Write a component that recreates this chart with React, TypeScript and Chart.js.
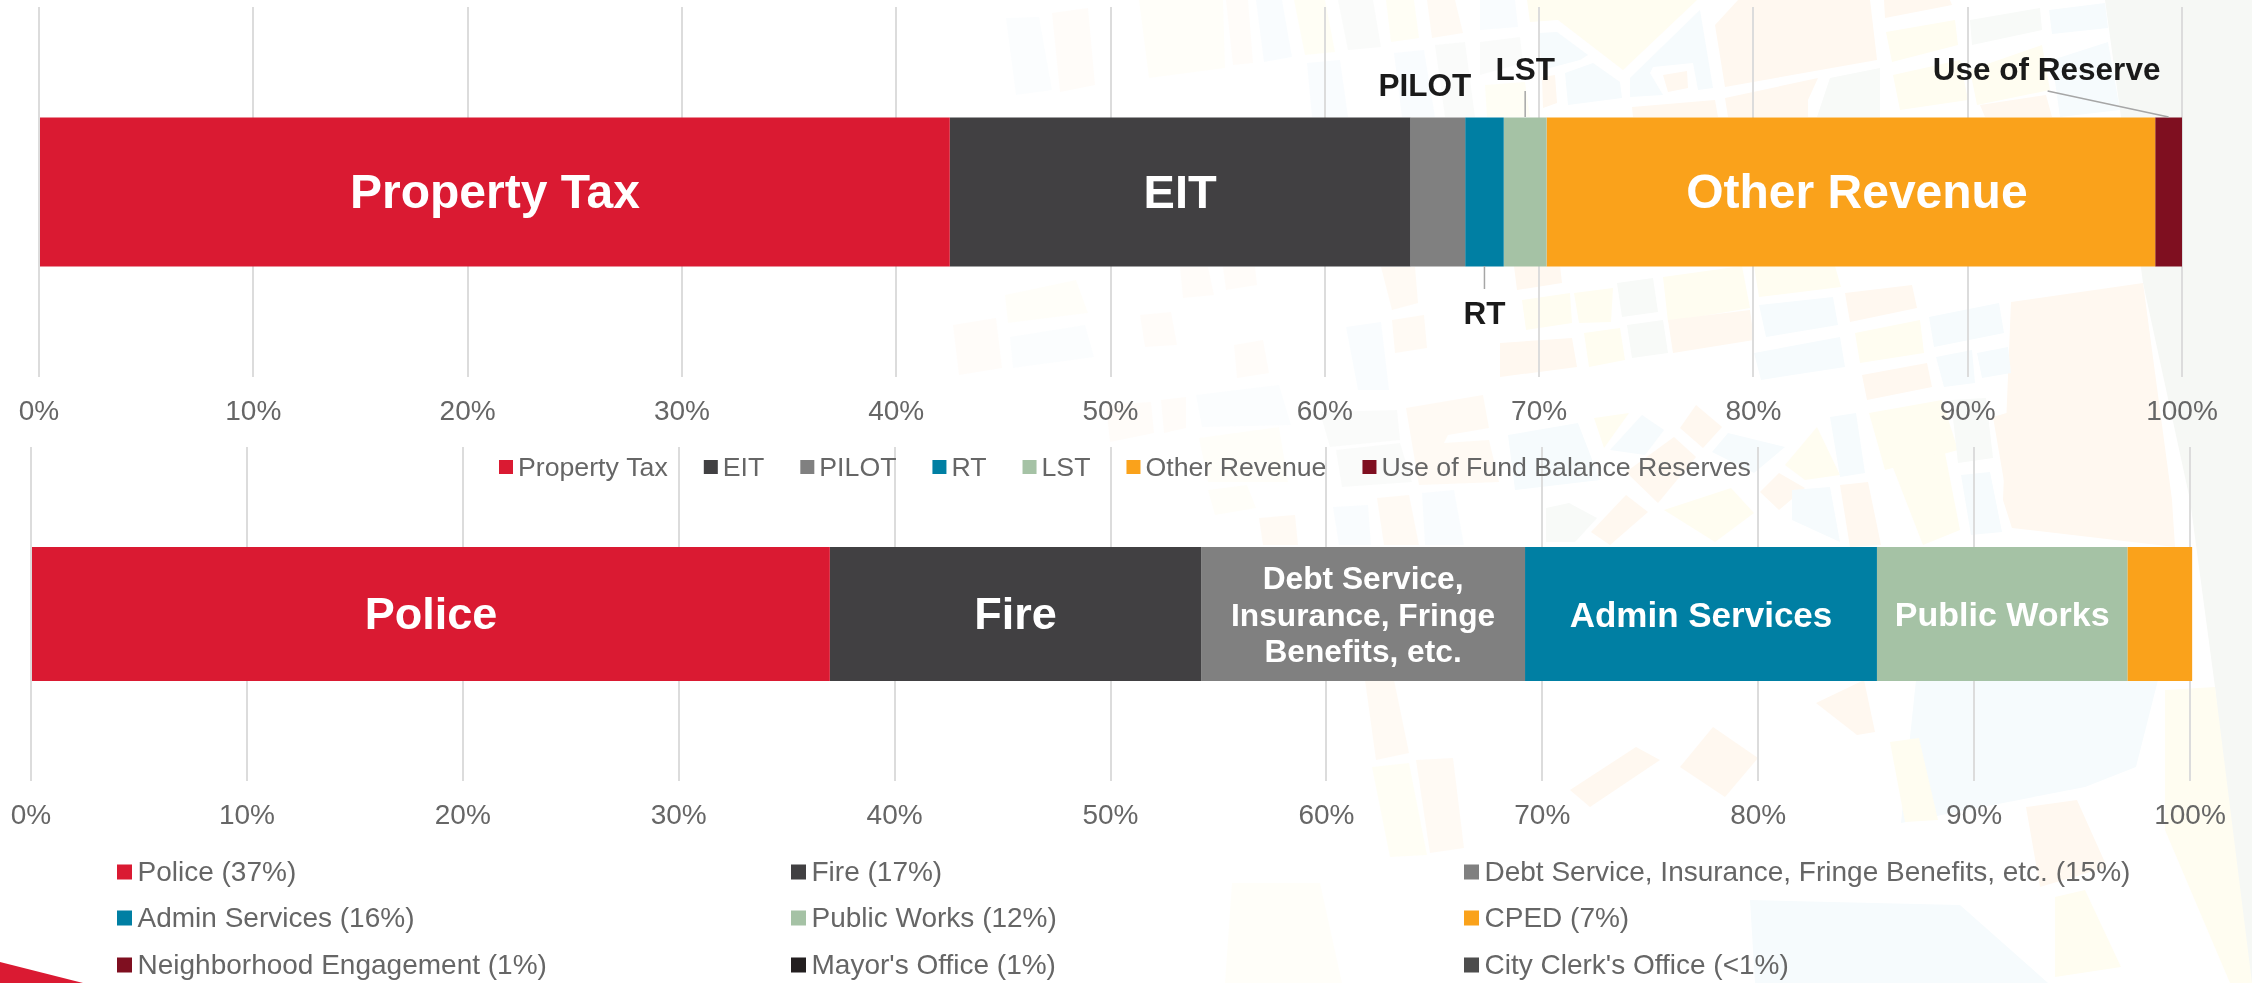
import React, { useEffect, useRef } from "react";
import { Chart, registerables } from "chart.js";

Chart.register(...registerables);

const FONT = "'Liberation Sans', Arial, sans-serif";
const TICK_GREY = "#666666";

// Revenue chart
const revenueNames = ["Property Tax", "EIT", "PILOT", "RT", "LST", "Other Revenue", "Use of Fund Balance Reserves"];
const revenueValues = [42.5, 21.5, 2.55, 1.8, 2.0, 28.4, 1.25];
const revenueColors = ["#DA1A32", "#414042", "#808080", "#007FA3", "#A5C2A5", "#FAA21B", "#7F0F20"];
const revenueInside = ["Property Tax", "EIT", "", "", "", "Other Revenue", ""];

// Spending chart
const spendNames = [
  "Police (37%)", "Fire (17%)", "Debt Service, Insurance, Fringe Benefits, etc. (15%)",
  "Admin Services (16%)", "Public Works (12%)", "CPED (7%)",
  "Neighborhood Engagement (1%)", "Mayor's Office (1%)", "City Clerk's Office (<1%)",
];
const spendValues = [37.0, 17.2, 15.0, 16.3, 11.6, 3.0, 0, 0, 0];
const spendColors = ["#DA1A32", "#414042", "#808080", "#007FA3", "#A5C2A5", "#FAA21B", "#7F0F20", "#231F20", "#4D4D4D"];
const spendInside = ["Police", "Fire", "Debt Service,\nInsurance, Fringe\nBenefits, etc.", "Admin Services", "Public Works", "", "", "", ""];

const axisTicks = [0, 10, 20, 30, 40, 50, 60, 70, 80, 90, 100];

// Decorative street-map backdrop: [fill, points]
const PEACH = "#FFF8F0";
const YELLOW = "#FFFDF1";
const BLUE = "#F6FBFD";
const GREY = "#F8FAF8";
const mapBlocks: [string, string][] = [
  ["#F6F8F5", "2105,0 2252,0 2252,983 2245,983 2215,687 2190,500 2143,283 2120,110"],
  [PEACH, "2011,302 2143,283 2172,500 2175,547 2012,528 2003,500"],
  [PEACH, "1993,417 2100,385 2100,512 2012,528"],
  [BLUE, "1916,680 2158,680 2136,767 2085,787 1901,823"],
  [YELLOW, "2165,690 2215,687 2252,983 2230,983 2165,830"],
  // top strip
  [YELLOW, "1527,0 1697,0 1623,70 1558,20 1530,22"],
  [BLUE, "1630,78 1700,10 1713,88 1698,90 1693,63 1653,67 1650,73 1663,95 1630,97"],
  [PEACH, "1715,25 1738,0 1870,0 1877,60 1725,87"],
  [PEACH, "1663,75 1687,71 1688,88 1668,92"],
  [PEACH, "1632,107 1715,100 1718,117 1633,117"],
  [PEACH, "1725,98 1818,78 1808,100 1808,117 1728,117"],
  [GREY, "1830,78 1880,68 1880,117 1817,117"],
  [BLUE, "1538,33 1557,32 1588,55 1580,60 1542,70"],
  [BLUE, "1565,73 1593,63 1620,82 1622,98 1568,105"],
  [BLUE, "1480,0 1515,0 1518,27 1480,30"],
  [GREY, "1480,42 1520,37 1523,63 1480,75"],
  [YELLOW, "1485,85 1525,82 1530,117 1487,117"],
  [PEACH, "1542,77 1555,75 1557,103 1543,108"],
  [PEACH, "1884,0 1950,0 1952,5 1885,18"],
  [YELLOW, "1886,32 1955,20 1958,45 1892,62"],
  [GREY, "1970,20 2040,8 2042,30 1972,45"],
  [BLUE, "2049,10 2105,3 2108,28 2052,34"],
  [BLUE, "2052,60 2108,42 2120,110 2060,117"],
  [YELLOW, "1970,70 2042,45 2050,90 1977,105"],
  [YELLOW, "1893,75 1960,60 1968,100 1900,110"],
  [PEACH, "1980,105 2046,95 2052,117 1985,117"],
  [PEACH, "1052,13 1088,8 1095,85 1060,92"],
  [BLUE, "1006,18 1039,17 1052,90 1016,95"],
  [YELLOW, "1139,0 1223,0 1225,68 1149,78"],
  [PEACH, "1226,0 1248,0 1253,63 1233,65"],
  [BLUE, "1256,0 1282,0 1292,57 1264,62"],
  [YELLOW, "1294,0 1325,0 1335,52 1305,55"],
  [GREY, "1338,0 1373,0 1381,47 1348,50"],
  [YELLOW, "1386,0 1414,0 1419,38 1391,42"],
  [PEACH, "1427,0 1455,0 1463,33 1432,38"],
  [BLUE, "1307,63 1340,60 1348,117 1312,117"],
  [BLUE, "1394,53 1424,50 1435,117 1402,117"],
  [GREY, "1435,45 1465,42 1475,117 1445,117"],
  // under the first bar
  [YELLOW, "1663,277 1742,266 1750,308 1668,322"],
  [YELLOW, "1754,266 1835,266 1841,287 1759,297"],
  [PEACH, "1845,293 1912,285 1917,308 1850,322"],
  [BLUE, "1759,305 1833,297 1838,325 1766,337"],
  [BLUE, "1929,317 1999,303 2004,333 1934,347"],
  [YELLOW, "1855,333 1920,320 1924,353 1860,363"],
  [PEACH, "1668,320 1750,310 1754,340 1673,353"],
  [BLUE, "1754,353 1840,337 1845,367 1761,380"],
  [PEACH, "1862,375 1927,363 1932,387 1867,400"],
  [BLUE, "1936,357 1972,350 1975,383 1944,387"],
  [BLUE, "1977,353 2008,347 2011,373 1982,378"],
  [PEACH, "1500,343 1572,338 1577,367 1500,377"],
  [YELLOW, "1584,333 1620,328 1625,360 1589,367"],
  [GREY, "1627,325 1663,320 1668,353 1632,358"],
  [GREY, "1617,283 1653,278 1658,312 1622,317"],
  [YELLOW, "1574,293 1613,288 1611,322 1579,323"],
  [YELLOW, "1522,300 1570,293 1572,323 1526,330"],
  [PEACH, "1514,266 1560,266 1562,283 1517,290"],
  [PEACH, "953,325 996,318 1002,368 959,375"],
  [YELLOW, "1005,295 1076,280 1088,313 1008,323"],
  [BLUE, "1010,337 1085,325 1094,357 1013,368"],
  [PEACH, "1140,315 1171,312 1177,345 1145,347"],
  [PEACH, "1180,267 1208,267 1214,295 1183,298"],
  [PEACH, "1223,267 1255,267 1257,285 1226,290"],
  [PEACH, "1234,345 1263,340 1269,373 1237,378"],
  [BLUE, "1346,327 1381,322 1389,390 1358,390"],
  [PEACH, "1392,320 1424,315 1427,348 1395,353"],
  [PEACH, "1381,267 1415,267 1418,303 1392,310"],
  // between the axes
  [PEACH, "1406,408 1483,395 1489,428 1448,435 1444,443 1489,440 1499,482 1419,485"],
  [BLUE, "1508,435 1578,423 1600,480 1515,490"],
  [YELLOW, "1594,418 1629,413 1604,448"],
  [BLUE, "1610,450 1642,415 1664,430 1645,455"],
  [PEACH, "1680,428 1696,405 1722,427 1703,448"],
  [PEACH, "1626,472 1674,437 1696,457 1658,503"],
  [BLUE, "1712,452 1728,433 1785,447 1754,473"],
  [YELLOW, "1785,465 1817,427 1840,475 1805,480"],
  [BLUE, "1830,417 1856,413 1865,473 1840,477"],
  [YELLOW, "1869,413 1942,400 1958,450 1885,470"],
  [YELLOW, "1890,460 1945,453 1960,530 1923,545"],
  [GREY, "1951,400 1986,398 1993,458 1958,463"],
  [BLUE, "1961,475 1990,472 2002,532 1971,535"],
  [PEACH, "1760,492 1779,473 1805,488 1779,510"],
  [BLUE, "1792,490 1830,487 1840,542 1792,520"],
  [PEACH, "1840,485 1868,482 1881,545 1850,547"],
  [YELLOW, "1664,510 1731,488 1754,513 1715,542"],
  [PEACH, "1591,532 1626,495 1648,512 1610,545"],
  [GREY, "1546,508 1569,503 1597,518 1575,542 1546,542"],
  [BLUE, "1333,507 1368,505 1371,545 1339,545"],
  [PEACH, "1377,498 1409,495 1419,545 1384,545"],
  [BLUE, "1422,493 1454,490 1464,545 1425,545"],
  [PEACH, "1106,405 1151,402 1154,433 1110,442"],
  [PEACH, "1161,400 1186,397 1186,428 1164,433"],
  [BLUE, "1196,395 1279,385 1291,425 1202,427"],
  [YELLOW, "1199,438 1279,427 1288,482 1208,482"],
  [GREY, "1320,412 1397,410 1400,440 1330,447"],
  [GREY, "1336,450 1400,443 1412,482 1342,487"],
  [PEACH, "1259,518 1295,515 1298,545 1263,545"],
  [YELLOW, "1208,490 1247,485 1256,508 1215,515"],
  // bottom
  [PEACH, "1713,727 1758,758 1725,797 1680,767"],
  [BLUE, "1750,900 1960,905 2048,983 1755,983"],
  [PEACH, "2026,807 2077,800 2107,867 2040,887"],
  [PEACH, "1365,680 1394,680 1409,753 1376,760"],
  [YELLOW, "1372,767 1409,763 1427,855 1390,857"],
  [PEACH, "1416,760 1453,758 1464,848 1430,853"],
  [YELLOW, "1232,883 1320,883 1342,983 1225,983"],
  [PEACH, "1816,703 1864,680 1875,732 1857,735"],
  [YELLOW, "1890,742 1919,738 1938,820 1905,822"],
  [PEACH, "1570,790 1636,747 1660,760 1590,807"],
  [YELLOW, "2055,897 2085,890 2121,967 2055,977"],
];

// The map fades out towards the left of the slide
const blockOpacity = (points: string) => {
  const x = parseFloat(points);
  return x < 1250 ? 0.4 : x < 1500 ? 0.7 : 1;
};

type Callout = { index: number; text: string; dx: number; cy: number; line?: [number, number, number, number] };

// Leader lines are offsets from the segment's centre (x) and absolute canvas heights (y)
const revenueCallouts: Callout[] = [
  { index: 2, text: "PILOT", dx: -13, cy: 84 },
  { index: 4, text: "LST", dx: 0, cy: 68, line: [0, 91, 0, 117] },
  { index: 6, text: "Use of Reserve", dx: -122, cy: 68, line: [-121, 91, 0, 117] },
  { index: 3, text: "RT", dx: 0, cy: 312, line: [0, 266, 0, 289] },
];

const barLabels = {
  id: "barLabels",
  afterDatasetsDraw(chart: any, _a: any, o: any) {
    const { ctx } = chart;
    ctx.save();
    ctx.textAlign = "center";
    ctx.textBaseline = "middle";
    o.texts.forEach((text: string, i: number) => {
      if (!text) return;
      const el = chart.getDatasetMeta(i).data[0];
      const cx = (el.x + el.base) / 2 + (o.dx?.[i] ?? 0);
      const size = o.sizes[i];
      ctx.font = `bold ${size}px ${FONT}`;
      ctx.fillStyle = "#FFFFFF";
      const lines = text.split("\n");
      lines.forEach((ln, k) => {
        ctx.fillText(ln, cx, el.y + 3 + (k - (lines.length - 1) / 2) * 36.6);
      });
    });
    (o.callouts ?? []).forEach((c: Callout) => {
      const el = chart.getDatasetMeta(c.index).data[0];
      const cx = (el.x + el.base) / 2;
      if (c.line) {
        ctx.strokeStyle = "#A6A6A6";
        ctx.lineWidth = 1.5;
        ctx.beginPath();
        ctx.moveTo(cx + c.line[0], c.line[1]);
        ctx.lineTo(cx + c.line[2], c.line[3]);
        ctx.stroke();
      }
      ctx.font = `bold 31.5px ${FONT}`;
      ctx.fillStyle = "#1A1A1A";
      ctx.fillText(c.text, cx + c.dx, c.cy + 3);
    });
    ctx.restore();
  },
};

const swatchLegend = {
  id: "swatchLegend",
  afterDraw(chart: any, _a: any, o: any) {
    const { ctx } = chart;
    ctx.save();
    ctx.font = `${o.size}px ${FONT}`;
    ctx.textBaseline = "middle";
    ctx.textAlign = "left";
    let flowX = o.x;
    chart.data.datasets.forEach((ds: any, i: number) => {
      let x = flowX;
      let y = o.y;
      if (o.columns) {
        x = o.columns[i % o.columns.length];
        y = o.rows[Math.floor(i / o.columns.length)];
      }
      ctx.fillStyle = ds.backgroundColor;
      ctx.fillRect(x, y - o.box / 2, o.box, o.box);
      ctx.fillStyle = TICK_GREY;
      ctx.fillText(ds.label, x + o.box + o.gap, y + 1.5);
      flowX = x + o.box + o.gap + ctx.measureText(ds.label).width + o.itemGap;
    });
    ctx.restore();
  },
};

function makeConfig(
  names: string[], values: number[], colors: string[],
  pad: { left: number; right: number; top: number },
  axisHeight: number, barPct: number, tickPad: number, pluginOpts: any,
) {
  return {
    type: "bar" as const,
    data: {
      labels: [""],
      datasets: names.map((label, i) => ({
        label,
        data: [values[i]],
        backgroundColor: colors[i],
        borderWidth: 0,
        barPercentage: barPct,
        categoryPercentage: 1,
        clip: false as const,
      })),
    },
    options: {
      indexAxis: "y" as const,
      responsive: false,
      animation: false as const,
      layout: { padding: { left: pad.left, right: pad.right, top: pad.top, bottom: 0 } },
      scales: {
        x: {
          stacked: true,
          min: 0,
          max: 100,
          afterBuildTicks: (s: any) => { s.ticks = axisTicks.map((value) => ({ value })); },
          afterFit: (s: any) => { s.height = axisHeight; s.paddingLeft = 0; s.paddingRight = 0; },
          border: { display: false },
          grid: { color: "#DCDCDC", lineWidth: 2, drawTicks: false },
          ticks: {
            autoSkip: false,
            maxRotation: 0,
            padding: tickPad,
            color: TICK_GREY,
            font: { family: FONT, size: 28 },
            callback: (v: any) => `${v}%`,
          },
        },
        y: { stacked: true, display: false },
      },
      plugins: { legend: { display: false }, tooltip: { enabled: false }, ...pluginOpts },
    },
    plugins: [barLabels, swatchLegend],
  };
}

export default function App() {
  const topRef = useRef<HTMLCanvasElement>(null);
  const botRef = useRef<HTMLCanvasElement>(null);

  useEffect(() => {
    document.body.style.margin = "0";
    const top = new Chart(topRef.current as any, makeConfig(
      revenueNames, revenueValues, revenueColors,
      { left: 39, right: 70, top: 7 }, 123, 0.4027, 18,
      {
        barLabels: { texts: revenueInside, sizes: [48, 47, 0, 0, 0, 48, 0], dx: [0, 0, 0, 0, 0, 6, 0], callouts: revenueCallouts },
        swatchLegend: { x: 499, y: 467, size: 26.7, box: 14, gap: 5, itemGap: 36 },
      },
    ) as any);
    const bot = new Chart(botRef.current as any, makeConfig(
      spendNames, spendValues, spendColors,
      { left: 31, right: 62, top: 7 }, 202, 0.4012, 18,
      {
        barLabels: { texts: spendInside, sizes: [45, 45, 31.7, 35, 34, 0, 0, 0, 0] },
        swatchLegend: { columns: [117, 791, 1464], rows: [432, 478, 525], size: 28, box: 15, gap: 5.5, itemGap: 0 },
      },
    ) as any);
    return () => { top.destroy(); bot.destroy(); };
  }, []);

  return (
    <div style={{ position: "absolute", left: 0, top: 0, width: 2252, height: 983, overflow: "hidden", background: "#FFFFFF" }}>
      <svg width={2252} height={983} style={{ position: "absolute", left: 0, top: 0 }}>
        {mapBlocks.map(([fill, points], i) => (
          <polygon key={i} fill={fill} fillOpacity={blockOpacity(points)} points={points} />
        ))}
        <polygon fill="#DA1A32" points="0,962 83,983 0,983" />
      </svg>
      <canvas ref={botRef} width={2252} height={543} style={{ position: "absolute", left: 0, top: 440, display: "block" }} />
      <canvas ref={topRef} width={2252} height={500} style={{ position: "absolute", left: 0, top: 0, display: "block" }} />
    </div>
  );
}
